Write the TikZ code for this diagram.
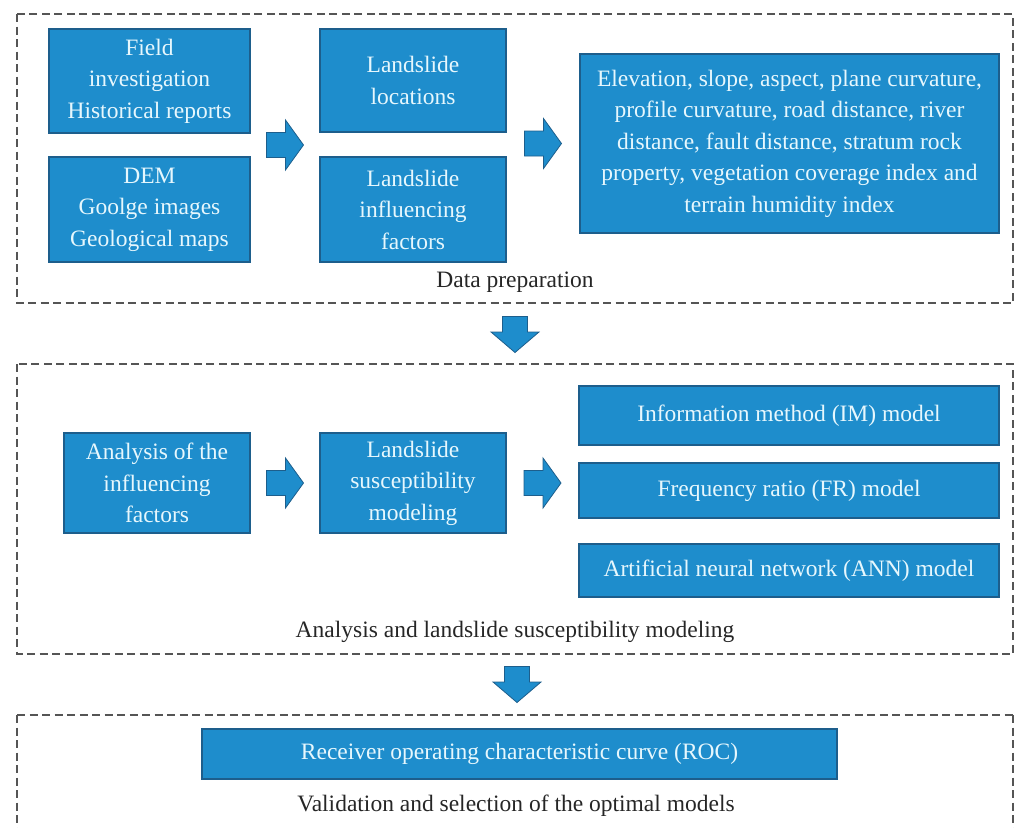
\documentclass[tikz,border=0pt]{standalone}
\usepackage{fontspec}
\setmainfont{Liberation Serif}
\usetikzlibrary{calc}
\definecolor{boxblue}{HTML}{1E8DCC}
\definecolor{boxedge}{HTML}{1D5E8C}
\definecolor{boxtext}{HTML}{E6F7FD}
\definecolor{dashgray}{HTML}{555555}
\tikzset{
  stage/.style={draw=dashgray, line width=1.2pt, dash pattern=on 8pt off 4.5pt},
  bluebox/.style={rectangle, fill=boxblue, draw=boxedge, line width=1.3pt,
    text=boxtext, align=center, inner sep=0pt,
    font=\fontsize{23.5}{31.5}\selectfont},
  caption/.style={text=black!85, inner sep=0pt, font=\fontsize{23.5}{28}\selectfont},
  pics/rarrow/.style={code={
    \fill[boxblue, draw=boxedge, line width=0.8pt]
      (-18.5,-12.5) -- (0.5,-12.5) -- (0.5,-25) -- (18.5,0) -- (0.5,25)
      -- (0.5,12.5) -- (-18.5,12.5) -- cycle;}},
  pics/darrow/.style={code={
    \fill[boxblue, draw=boxedge, line width=0.8pt]
      (-12.5,-17.5) -- (12.5,-17.5) -- (12.5,-2) -- (24,-2) -- (0,18.5)
      -- (-24,-2) -- (-12.5,-2) -- cycle;}}
}
\begin{document}
\begin{tikzpicture}[x=1pt, y=-1pt]
\useasboundingbox (0,0) rectangle (1014,827);

% stage frames
\draw[stage] (17,14) rectangle (1013,303);
\draw[stage] (17,364) rectangle (1013,654);
\draw[stage] (17,715) -- (1013,715);
\draw[stage] (17,715) -- (17,840);
\draw[stage] (1013,715) -- (1013,840);

% data preparation
\node[bluebox, minimum width=201pt, minimum height=104pt] (field) at (149.5,81)
  {Field\\investigation\\Historical reports};
\node[bluebox, minimum width=201pt, minimum height=105pt] (dem) at (149.5,209.5)
  {DEM\\Goolge images\\Geological maps};
\node[bluebox, minimum width=186pt, minimum height=103pt] (loc) at (413,80.5)
  {Landslide\\locations};
\node[bluebox, minimum width=186pt, minimum height=105pt] (infl) at (413,209.5)
  {Landslide\\influencing\\factors};
\node[bluebox, minimum width=419pt, minimum height=179pt] (list) at (789.5,143.5)
  {Elevation, slope, aspect, plane curvature,\\profile curvature, road distance, river\\
   distance, fault distance, stratum rock\\property, vegetation coverage index and\\
   terrain humidity index};
\node[caption] (cap1) at (515,282) {Data preparation};

\coordinate (a1) at ($(field.south east)!0.5!(infl.north west)$);
\pic at (a1) {rarrow};
\coordinate (a2) at ($(loc.east |- list.west)!0.5!(list.west)$);
\pic at (a2) {rarrow};

% analysis and modeling
\node[bluebox, minimum width=186pt, minimum height=100pt] (anal) at (157,483)
  {Analysis of the\\influencing\\factors};
\node[bluebox, minimum width=186pt, minimum height=100pt] (susc) at (413,483)
  {Landslide\\susceptibility\\modeling};
\node[bluebox, minimum width=420pt, minimum height=59pt] (im) at (789,415.5)
  {Information method (IM) model};
\node[bluebox, minimum width=420pt, minimum height=55pt] (fr) at (789,490.5)
  {Frequency ratio (FR) model};
\node[bluebox, minimum width=420pt, minimum height=53pt] (ann) at (789,570.5)
  {Artificial neural network (ANN) model};
\node[caption] (cap2) at (515,632) {Analysis and landslide susceptibility modeling};

\coordinate (a3) at ($(anal.east)!0.5!(susc.west)$);
\pic at (a3) {rarrow};
\coordinate (a4) at ($(susc.east)!0.5!(susc.east -| fr.west)$);
\pic at (a4) {rarrow};

% validation
\node[bluebox, minimum width=635pt, minimum height=50pt] (roc) at (519.5,754)
  {Receiver operating characteristic curve (ROC)};
\node[caption] (cap3) at (516,806) {Validation and selection of the optimal models};

% flow between stages
\coordinate (d1) at (515,334);
\pic at (d1) {darrow};
\coordinate (d2) at (517,684);
\pic at (d2) {darrow};
\end{tikzpicture}
\end{document}
